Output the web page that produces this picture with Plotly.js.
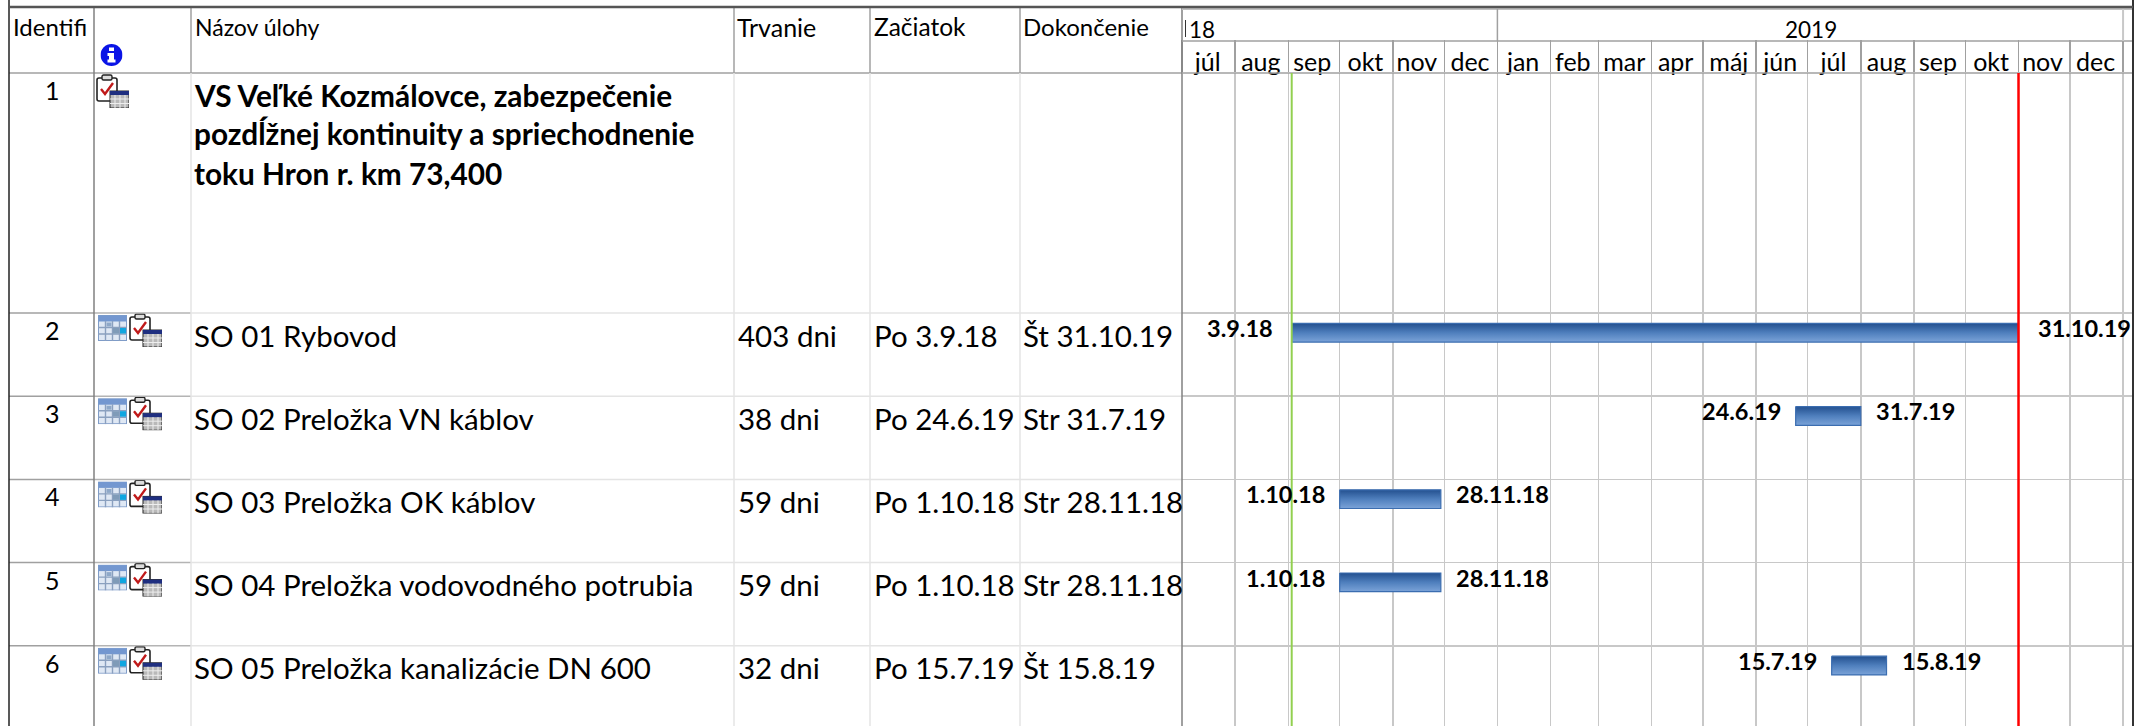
<!DOCTYPE html>
<html><head><meta charset="utf-8">
<script src="https://cdn.plot.ly/plotly-3.0.1.min.js"></script>
<style>html,body{margin:0;padding:0;background:#fff}#chart{width:2145px;height:726px}</style>
</head><body><div id="chart"></div>
<script>
// ---- data ----
const headers = ["Identifi", "Názov úlohy", "Trvanie", "Začiatok", "Dokončenie"];
const summaryId = 1;
const summaryLines = ["VS Veľké Kozmálovce, zabezpečenie", "pozdĺžnej kontinuity a spriechodnenie", "toku Hron r. km 73,400"];
const taskIds = [2, 3, 4, 5, 6];
const taskNames = ["SO 01 Rybovod", "SO 02 Preložka VN káblov", "SO 03 Preložka OK káblov", "SO 04 Preložka vodovodného potrubia", "SO 05 Preložka kanalizácie DN 600"];
const durations = ["403 dni", "38 dni", "59 dni", "59 dni", "32 dni"];
const startText = ["Po 3.9.18", "Po 24.6.19", "Po 1.10.18", "Po 1.10.18", "Po 15.7.19"];
const finishText = ["Št 31.10.19", "Str 31.7.19", "Str 28.11.18", "Str 28.11.18", "Št 15.8.19"];
const startLabels = ["3.9.18", "24.6.19", "1.10.18", "1.10.18", "15.7.19"];
const finishLabels = ["31.10.19", "31.7.19", "28.11.18", "28.11.18", "15.8.19"];
const starts = ["2018-09-03", "2019-06-24", "2018-10-01", "2018-10-01", "2019-07-15"];
const finishes = ["2019-11-01", "2019-08-01", "2018-11-29", "2018-11-29", "2019-08-16"];
const projectStart = "2018-09-03";
const projectFinish = "2019-11-01";
const monthStarts = ["2018-07-01","2018-08-01","2018-09-01","2018-10-01","2018-11-01","2018-12-01","2019-01-01","2019-02-01","2019-03-01","2019-04-01","2019-05-01","2019-06-01","2019-07-01","2019-08-01","2019-09-01","2019-10-01","2019-11-01","2019-12-01","2020-01-01"];
const monthMids = ["2018-07-16","2018-08-16","2018-09-15","2018-10-16","2018-11-15","2018-12-16","2019-01-16","2019-02-14","2019-03-16","2019-04-15","2019-05-16","2019-06-15","2019-07-16","2019-08-16","2019-09-15","2019-10-16","2019-11-15","2019-12-16"];
const monthNames = ["júl","aug","sep","okt","nov","dec","jan","feb","mar","apr","máj","jún","júl","aug","sep","okt","nov","dec"];
const yearLabels = ["18", "2019"];

// ---- layout constants ----
const W = 2145, H = 726, FONT = "Lato, Carlito, Calibri, sans-serif";
const PX = x => x / W, PY = y => 1 - y / H;
const colX = [9, 94, 191, 734, 870, 1020, 1182];
const ganttRight = 2133, headTop = 73, rowPx = 83.2, firstRow = 313;
const rowTopPx = id => firstRow + (id - 2) * rowPx;
const cLight = "#e4e4e4", cGrid = "#c8c8c8", cHead = "#a0a0a0", cDark = "#808080";

function line(x0, y0, x1, y1, color, width) {
  return {type: "line", xref: "paper", yref: "paper", x0: PX(x0), x1: PX(x1), y0: PY(y0), y1: PY(y1), line: {color, width}};
}
function text(t, x, y, size, opts = {}) {
  return Object.assign({text: t, xref: "paper", yref: "paper", x: PX(x), y: PY(y), xanchor: "left", yanchor: "middle",
    showarrow: false, borderpad: 0, font: {family: FONT, size, color: "#000", weight: opts.bold ? 700 : 400}}, opts.extra || {});
}

// ---- bars (through the date axis and task-row axis) ----
const barTop = 0.125, barBottom = 0.35;
const traces = taskIds.map((id, i) => ({
  type: "scatter", mode: "lines", fill: "toself", hoverinfo: "skip", showlegend: false,
  x: [starts[i], finishes[i], finishes[i], starts[i], starts[i]],
  y: [id + barTop, id + barTop, id + barBottom, id + barBottom, id + barTop],
  line: {color: "#3b6db0", width: 1.2},
  fillgradient: {type: "vertical", colorscale: [[0, "#7ba3d8"], [0.5, "#4f7fbd"], [1, "#23508f"]]}
}));
traces.push({type: "scatter", mode: "lines", xaxis: "x2", yaxis: "y", x: [monthMids[0]], y: [2], hoverinfo: "skip", showlegend: false, line: {width: 0}});

// ---- table lines ----
const shapes = [];
[headTop].forEach(y => shapes.push(line(colX[0], y, colX[6], y, cHead, 1.5)));
taskIds.forEach(id => {
  const y = rowTopPx(id);
  shapes.push(line(colX[0], y, colX[1], y, cHead, 1.5));
  shapes.push(line(colX[1], y, colX[2], y, "#b4b4b4", 1.5));
  shapes.push(line(colX[2], y, colX[6], y, cLight, 1.5));
});
shapes.push(line(colX[1], 7, colX[1], H, cDark, 1.5));
colX.slice(2, 6).forEach(x => {
  shapes.push(line(x, 7, x, headTop, cHead, 1.5));
  shapes.push(line(x, headTop, x, H, cLight, 1.5));
});
shapes.push(line(colX[6], 7, colX[6], H, cDark, 1.5));
shapes.push(line(colX[6], 9, ganttRight, 9, "#c0c0c0", 2));
shapes.push(line(colX[6], 41, ganttRight, 41, cHead, 1.5));
shapes.push(line(colX[6], headTop, ganttRight, headTop, cHead, 1.5));
shapes.push(line(colX[0], 0, colX[0], H, "#222", 1.5));
shapes.push(line(ganttRight, 0, ganttRight, H, "#333", 2));
shapes.push(line(colX[0], 7, ganttRight, 7, "#555", 2.5));
shapes.push(line(1185.5, 20, 1185.5, 37, "#333", 1));
shapes.push({type: "line", xref: "x", yref: "paper", x0: "2019-01-01", x1: "2019-01-01", y0: PY(9), y1: PY(41), line: {color: cHead, width: 1.5}});
shapes.push({type: "line", xref: "x", yref: "paper", x0: "2020-01-01", x1: "2020-01-01", y0: PY(9), y1: PY(41), line: {color: cGrid, width: 2}});
shapes.push({type: "line", xref: "x", yref: "paper", x0: projectStart, x1: projectStart, y0: PY(headTop), y1: 0, line: {color: "#92d050", width: 2}});
shapes.push({type: "line", xref: "x", yref: "paper", x0: projectFinish, x1: projectFinish, y0: PY(headTop), y1: 0, line: {color: "#ff0000", width: 2.5}});

// ---- texts ----
const ann = [];
const yearFs = 22.5, monthFs = 25, bodyFs = 29.5, labelFs = 23.5;
ann.push(text(headers[0], 12, 27, 24));
ann.push(text(headers[1], 194, 27, 23));
ann.push(text(headers[2], 736, 27, 25));
ann.push(text(headers[3], 873, 27, 24.5));
ann.push(text(headers[4], 1022, 27, 24));
ann.push(text(String(summaryId), 52, 90, 25, {extra: {xanchor: "center"}}));
summaryLines.forEach((t, i) => ann.push(text(t, 193, 95 + i * 39, 29.8, {bold: true})));
taskIds.forEach((id, i) => {
  const y = rowTopPx(id);
  ann.push(text(String(id), 52, y + 17, 25, {extra: {xanchor: "center"}}));
  ann.push(text(taskNames[i], 193, y + 22, bodyFs));
  ann.push(text(durations[i], 737, y + 22, bodyFs));
  ann.push(text(startText[i], 873, y + 22, bodyFs));
  ann.push(text(finishText[i], 1022, y + 22, bodyFs));
  const gap = id === 2 ? 18 : 14;
  ann.push({text: startLabels[i], xref: "x", yref: "y", x: starts[i], y: id, xanchor: "right", yanchor: "middle", yshift: -15, xshift: -gap, showarrow: false, borderpad: 0, font: {family: FONT, size: labelFs, color: "#000", weight: 700}});
  ann.push({text: finishLabels[i], xref: "x", yref: "y", x: finishes[i], y: id, xanchor: "left", yanchor: "middle", yshift: -15, xshift: gap, showarrow: false, borderpad: 0, font: {family: FONT, size: labelFs, color: "#000", weight: 700}});
});
ann.push(text(yearLabels[0], 1188, 29, yearFs));
ann.push({text: yearLabels[1], xref: "x", yref: "paper", x: "2019-07-03", y: PY(29), xanchor: "center", yanchor: "middle", showarrow: false, borderpad: 0, font: {family: FONT, size: yearFs, color: "#000"}});

// ---- icons ----
const svgUri = s => "data:image/svg+xml;utf8," + encodeURIComponent(s);
const clipboard = svgUri(`<svg xmlns="http://www.w3.org/2000/svg" width="33" height="34" viewBox="0 0 33 34">
<rect x="1" y="4" width="20" height="23" rx="2" fill="#fff" stroke="#222" stroke-width="1.6"/>
<rect x="6" y="1" width="10" height="5" rx="1.5" fill="#ddd" stroke="#222" stroke-width="1.4"/>
<path d="M5 15 L9 20 L17 9" fill="none" stroke="#c01a1a" stroke-width="2.4"/>
<rect x="14" y="17" width="19" height="17" fill="#b9b9b9" stroke="#222" stroke-width="1"/>
<rect x="14" y="17" width="19" height="4" fill="#1f2f80"/>
<path d="M19 21V34M24 21V34M29 21V34M14 25H33M14 29.5H33" stroke="#eee" stroke-width="1"/>
</svg>`);
const calendar = svgUri(`<svg xmlns="http://www.w3.org/2000/svg" width="29" height="26" viewBox="0 0 29 26">
<rect x="0.5" y="0.5" width="28" height="25" fill="#dfe8f4" stroke="#7f9cc8"/>
<rect x="0.5" y="0.5" width="28" height="6" fill="#7397d0"/>
<path d="M7.5 6V26M14.5 6V26M21.5 6V26M0 12.5H29M0 19H29" stroke="#8aa0bf" stroke-width="1.4"/>
<rect x="8.5" y="7.5" width="5" height="4" fill="#8ea8c8"/>
<rect x="22" y="13" width="6" height="5.5" fill="#0fa6e0"/>
<rect x="15" y="13" width="6" height="5.5" fill="#7f9bb8"/>
</svg>`);
const info = svgUri(`<svg xmlns="http://www.w3.org/2000/svg" width="22" height="22" viewBox="0 0 22 22">
<circle cx="11" cy="11" r="11" fill="#0a14e6"/>
<rect x="8.5" y="3.5" width="5" height="3.5" fill="#fff"/>
<path d="M7 9H13.5V15.5H15V18.5H7V15.5H8.5V12H7Z" fill="#fff"/>
</svg>`);
const img = (src, x, y, w, h) => ({source: src, xref: "paper", yref: "paper", x: PX(x), y: PY(y), sizex: w / W, sizey: h / H, xanchor: "left", yanchor: "top", sizing: "stretch", layer: "above"});
const images = [img(info, 100.5, 44, 22, 22), img(clipboard, 96, 74, 33, 34)];
taskIds.forEach(id => {
  const y = rowTopPx(id);
  images.push(img(calendar, 98, y + 2, 29, 26));
  images.push(img(clipboard, 129, y, 33, 34));
});

const domain = [PX(colX[6]), PX(ganttRight)];
const xRange = ["2018-07-01", "2020-01-06 19:00"];
Plotly.newPlot("chart", traces, {
  width: W, height: H, margin: {l: 0, r: 0, t: 0, b: 0}, paper_bgcolor: "#fff", plot_bgcolor: "rgba(0,0,0,0)", showlegend: false,
  xaxis: {type: "date", domain, range: xRange, side: "top", anchor: "y", tickmode: "array", tickvals: monthStarts, ticktext: monthStarts.map(() => ""),
    showgrid: true, gridcolor: cGrid, gridwidth: 1.5, ticks: "outside", ticklen: 32, tickcolor: cHead, tickwidth: 1.5, zeroline: false, showline: false},
  xaxis2: {type: "date", domain, range: xRange, side: "top", overlaying: "x", anchor: "y", tickmode: "array", tickvals: monthMids, ticktext: monthNames,
    showgrid: false, ticks: "outside", ticklen: 1, tickcolor: "rgba(0,0,0,0)", zeroline: false, showline: false, ticklabelstandoff: -10, tickfont: {family: FONT, size: monthFs, color: "#000"}},
  yaxis: {domain: [0, PY(headTop)], range: [2 + (H - firstRow) / rowPx, 2 - (firstRow - headTop) / rowPx], tickmode: "array", tickvals: taskIds, showticklabels: false,
    showgrid: true, gridcolor: cGrid, gridwidth: 1.5, zeroline: false, showline: false, ticks: ""},
  shapes, annotations: ann, images
}, {displayModeBar: false, staticPlot: true});
</script></body></html>
